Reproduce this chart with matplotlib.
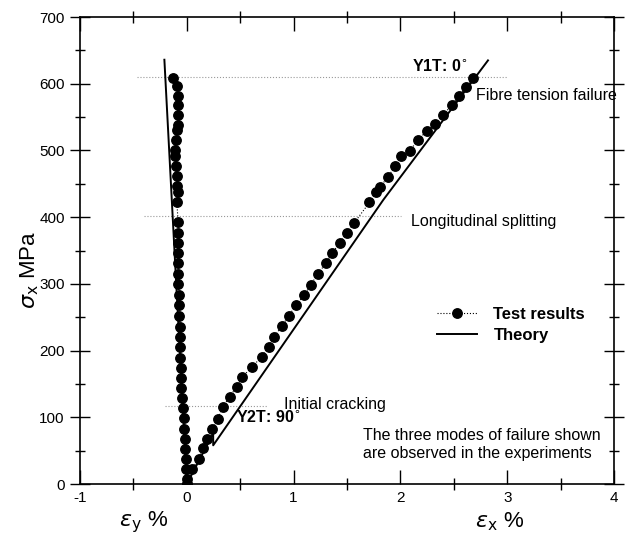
import matplotlib.pyplot as plt
from matplotlib.ticker import MultipleLocator

plt.rcParams['font.family'] = ['Liberation Sans', 'DejaVu Sans']
plt.rcParams['mathtext.fontset'] = 'dejavusans'
plt.rcParams['axes.unicode_minus'] = False

# test results, eps_x branch (%), stress (MPa)
strain_x = [0, 0.05, 0.11, 0.15, 0.19, 0.24, 0.29, 0.34, 0.40, 0.47, 0.52, 0.61, 0.70, 0.77,
            0.82, 0.89, 0.955, 1.02, 1.10, 1.16, 1.23, 1.30, 1.36, 1.43, 1.50, 1.57, 1.71,
            1.77, 1.81, 1.88, 1.95, 2.01, 2.09, 2.16, 2.25, 2.32, 2.40, 2.48, 2.55, 2.61, 2.68]
stress_x = [0, 22, 38, 54, 67, 82, 98, 116, 131, 146, 161, 175, 191, 206,
            221, 237, 252, 268, 283, 299, 315, 331, 346, 361, 377, 392, 422,
            437, 445, 460, 476, 491, 499, 516, 529, 540, 553, 568, 582, 595, 609]

# test results, eps_y branch
strain_y = [0, 0, -0.005, -0.01, -0.015, -0.02, -0.025, -0.03, -0.04, -0.045, -0.05, -0.055,
            -0.055, -0.06, -0.06, -0.065, -0.065, -0.07, -0.07, -0.075, -0.078, -0.08, -0.081,
            -0.085, -0.087, -0.081, -0.081, -0.094, -0.087, -0.096, -0.096, -0.103, -0.112,
            -0.112, -0.103, -0.096, -0.087, -0.087, -0.081, -0.081, -0.096, -0.128]
stress_y = [0, 7, 22, 37, 52, 68, 83, 99, 114, 129, 144, 159,
            174, 189, 205, 221, 236, 252, 269, 284, 300, 315, 331,
            346, 361, 377, 393, 423, 437, 446, 461, 476, 491,
            500, 516, 530, 538, 553, 568, 582, 596, 609]

# theory
theory_x = [0, 0.247, 0.247, 0.81, 1.84, 2.82]
theory_sx = [0, 76, 58, 188, 426, 635]
theory_y = [0, -0.21]
theory_sy = [0, 636]

# failure levels: stress, x start, x end
levels = [609.5, 402, 117.5]
level_x0 = [-0.47, -0.40, -0.20]
level_x1 = [3.0, 2.01, 0.75]

fig = plt.figure(figsize=(6.27, 5.34), dpi=100)
ax = fig.add_axes([0.1276, 0.0936, 0.8517, 0.8745])

for s, a, b in zip(levels, level_x0, level_x1):
    ax.plot([a, b], [s, s], color='#999999', ls=':', lw=0.8)

l1, = ax.plot(strain_x, stress_x, 'k:', marker='o', ms=6.8, lw=0.8)
ax.plot(strain_y, stress_y, 'k:', marker='o', ms=6.8, lw=0.8)
l2, = ax.plot(theory_x, theory_sx, 'k-', lw=1.4)
ax.plot(theory_y, theory_sy, 'k-', lw=1.4)

ax.set_xlim(-1, 4)
ax.set_ylim(0, 700)
ax.xaxis.set_major_locator(MultipleLocator(1))
ax.xaxis.set_minor_locator(MultipleLocator(0.5))
ax.yaxis.set_major_locator(MultipleLocator(100))
ax.yaxis.set_minor_locator(MultipleLocator(50))
ax.tick_params(axis='x', which='major', direction='in', length=10, width=1, labelsize=11, pad=5,
               top=True)
ax.tick_params(axis='x', which='minor', direction='inout', length=8, width=1, top=True)
ax.tick_params(axis='y', which='major', direction='inout', length=14, width=1, labelsize=11,
               pad=4, right=True)
ax.tick_params(axis='y', which='minor', direction='inout', length=7, width=1, right=True)
for sp in ax.spines.values():
    sp.set_linewidth(1.2)

ax.text(-1.47, 321, r'$\sigma_{\mathrm{x}}$ MPa', rotation=90, fontsize=16,
        ha='center', va='center', clip_on=False)
ax.text(-0.41, -57, r'$\varepsilon_{\mathrm{y}}$ %', fontsize=16, ha='center', va='center',
        clip_on=False)
ax.text(2.93, -57, r'$\varepsilon_{\mathrm{x}}$ %', fontsize=16, ha='center', va='center',
        clip_on=False)

ax.text(2.104, 626, r'Y1T: 0$^{\circ}$', fontsize=11.5, fontweight='bold', va='center')
ax.text(2.706, 583, 'Fibre tension failure', fontsize=11.5, va='center')
ax.text(2.10, 394, 'Longitudinal splitting', fontsize=11.5, va='center')
ax.text(0.91, 119, 'Initial cracking', fontsize=11.5, va='center')
ax.text(0.46, 101, r'Y2T: 90$^{\circ}$', fontsize=11.5, fontweight='bold', va='center')
ax.text(1.652, 59, 'The three modes of failure shown\nare observed in the experiments',
        fontsize=11.5, va='center', linespacing=1.2)

ax.legend([l1, l2], ['Test results', 'Theory'], loc='center left',
          bbox_to_anchor=(0.668, 0.34), frameon=False, borderaxespad=0, borderpad=0,
          handlelength=2.4, handletextpad=1.0, labelspacing=0.35,
          prop={'weight': 'bold', 'size': 12})

plt.savefig('out.png', dpi=100)
